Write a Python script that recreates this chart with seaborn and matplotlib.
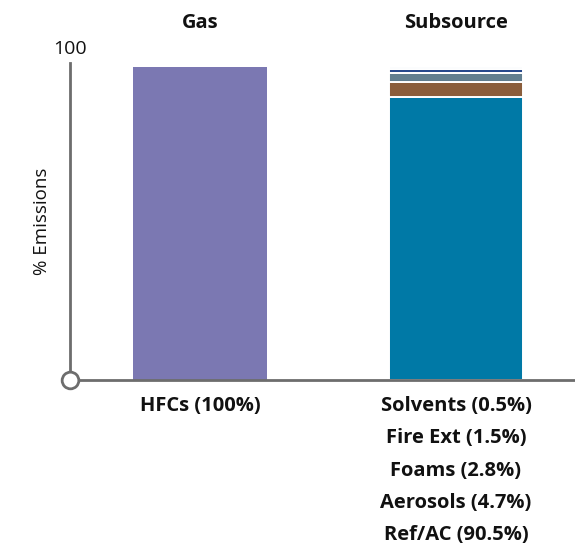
import matplotlib
matplotlib.use("Agg")
import matplotlib.pyplot as plt
import seaborn as sns
import pandas as pd
import numpy as np

sns.set_theme(style="white")
plt.rcParams['font.family'] = ['Open Sans', 'DejaVu Sans']

# data
columns = ["Gas", "Subsource"]
gas_labels = ["HFCs (100%)"]
gas_values = [100.0]
sub_labels = ["Ref/AC (90.5%)", "Aerosols (4.7%)", "Foams (2.8%)", "Fire Ext (1.5%)", "Solvents (0.5%)"]
sub_values = [90.5, 4.7, 2.8, 1.5, 0.5]
sub_colors = ["#0079A6", "#8B5E3C", "#617E8F", "#26488C", "#8FB3DA"]
gas_color = "#7B78B2"

fig = plt.figure(figsize=(5.75, 5.5), dpi=100)
ax = fig.add_axes([70/575, 170/550, 505/575, 317/550])

df = pd.DataFrame({"col": ["Gas"], "val": gas_values})
sns.barplot(data=df, x="col", y="val", order=columns, color=gas_color,
            width=0.527, saturation=1, ax=ax, linewidth=0)

bottom = 0.0
for v, c in zip(sub_values, sub_colors):
    ax.bar(1, v, bottom=bottom, width=0.527, color=c, edgecolor="white", linewidth=1.4)
    bottom += v

ax.set_xlim(-0.508, 1.465)
ax.set_ylim(0, 101.3)
ax.set_xticks([])
ax.set_yticks([])
ax.set_xlabel("")
ax.set_ylabel("% Emissions", fontsize=13.5, labelpad=14, color="#111111")
for s in ["top", "right"]:
    ax.spines[s].set_visible(False)
for s in ["left", "bottom"]:
    ax.spines[s].set_color("#6d6d6d")
    ax.spines[s].set_linewidth(2)

ax.plot([-0.508], [0], marker="o", markersize=12, markerfacecolor="white",
        markeredgecolor="#6d6d6d", markeredgewidth=2, clip_on=False, zorder=5)

ax.annotate("100", xy=(-0.508, 100), xytext=(0, 13), textcoords="offset points",
            ha="center", va="center", fontsize=14, color="#111111", annotation_clip=False)

for i, t in enumerate(columns):
    ax.text(i, 1.0 + 40/317, t, transform=ax.get_xaxis_transform(), ha="center", va="center",
            fontsize=14.5, fontweight="bold", color="#111111")

ax.annotate(gas_labels[0], xy=(0, 0), xytext=(0, -19), textcoords="offset points",
            ha="center", va="center", fontsize=14.5, fontweight="bold", color="#111111",
            annotation_clip=False)
for k, lab in enumerate(sub_labels[::-1]):
    ax.annotate(lab, xy=(1, 0), xytext=(0, -19 - 23.1 * k), textcoords="offset points",
                ha="center", va="center", fontsize=14.5, fontweight="bold", color="#111111",
                annotation_clip=False)

fig.savefig("out.png", dpi=100)
